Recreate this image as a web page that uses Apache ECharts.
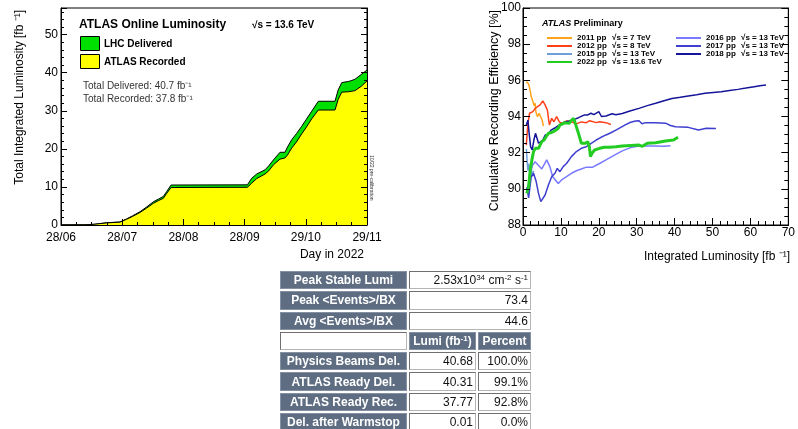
<!DOCTYPE html>
<html>
<head>
<meta charset="utf-8">
<script src="https://cdn.jsdelivr.net/npm/echarts@6/dist/echarts.min.js"></script>
<style>
  html, body { margin: 0; padding: 0; background: #fff; }
  #chart { position: absolute; left: 0; top: 0; width: 798px; height: 429px; }
  #tbl { position: absolute; left: 278px; top: 269px; overflow: hidden; height: 160px; }
  #tbl table { border-collapse: separate; border-spacing: 2px; table-layout: fixed; width: 255px;
    font-family: 'Liberation Sans', Arial, sans-serif; font-size: 12px; }
  #tbl td { height: 16.3px; padding: 0 2px; white-space: nowrap; overflow: hidden; line-height: 14px; }
  #tbl td.h { background: #5e6d82; color: #fff; font-weight: bold; text-align: center;
    border: 1px solid #8491a2; }
  #tbl td.v { background: #fff; color: #111; text-align: right;
    border-top: 1px solid #6f6f6f; border-left: 1px solid #6f6f6f;
    border-right: 1px solid #b5b5b5; border-bottom: 1px solid #b5b5b5; }
  #tbl sup { font-size: 8px; line-height: 0; vertical-align: 4px; }
</style>
</head>
<body>
<div id="chart"></div>
<div id="tbl"></div>
<script>
// ---- left plot: cumulative luminosity vs day (day 0 = 28/06/2022)
const dayTicks = ['28/06', '28/07', '28/08', '28/09', '29/10', '29/11']
const dayStep = 30.8
const lumiDays = [0, 12, 17, 23, 29.7, 33, 36, 39.8, 43, 46.5, 49, 51.5, 53.2, 55.4, 56, 93.8, 96, 98.5, 102.7, 104.5, 106.9, 110.2, 112.7, 114, 116.1, 118.5, 121.1, 123.5, 126.2, 129.5, 137.9, 139.5, 141.3, 144.6, 146, 148, 151, 154]
const lumiDelivered = [0, 0.05, 0.2, 0.6, 0.8, 1.6, 2.4, 3.5, 4.7, 6.1, 6.8, 7.5, 8.8, 10.5, 10.55, 10.55, 12.3, 13.4, 14.5, 15.5, 17.1, 19.1, 19.1, 20.5, 22.4, 24.0, 25.9, 27.8, 29.9, 32.5, 32.5, 35.5, 37.4, 37.7, 37.9, 38.3, 39.5, 40.7]
const lumiRecorded = [0, 0.05, 0.2, 0.55, 0.75, 1.5, 2.25, 3.3, 4.4, 5.7, 6.4, 7.0, 8.3, 9.85, 9.9, 9.9, 11.0, 12.2, 13.4, 14.2, 15.8, 17.3, 17.6, 18.4, 20.2, 21.8, 23.9, 25.7, 27.9, 30.2, 30.2, 33.0, 34.9, 35.0, 35.1, 35.3, 36.4, 37.8]

// ---- right plot: cumulative recording efficiency [%] vs integrated lumi [fb-1]
const runYears = ['2011', '2012', '2015', '2022', '2016', '2017', '2018']
const runEnergy = ['7', '8', '13', '13.6', '13', '13', '13']
const eff2011 = [[0.87, 95.93], [1.2, 95.85], [1.48, 95.8], [1.91, 95.4], [2.17, 95.1], [2.6, 95.19], [2.96, 94.6], [3.2, 94.73], [3.39, 94.27], [3.83, 93.99], [4.1, 94.1], [4.26, 94.18], [4.7, 94.08], [5.04, 93.81], [5.39, 93.47]]
const eff2012 = [[0.87, 92.42], [1.3, 93.62], [1.74, 94.18], [2.17, 94.08], [2.6, 94.27], [3.22, 94.45], [3.83, 94.54], [4.52, 94.64], [5.22, 94.86], [5.83, 94.64], [6.43, 94.36], [6.96, 93.53], [7.57, 93.9], [8.17, 93.71], [8.87, 93.99], [9.57, 93.71], [10.17, 93.62], [11.48, 93.75], [12.78, 93.71], [14.09, 93.59], [15.39, 93.7], [16.7, 93.66], [17.6, 93.77], [19.3, 93.66], [20.2, 93.71], [21.9, 93.66], [23.2, 93.56]]
const eff2015 = [[0.9, 92.2], [1.1, 91.5], [1.3, 91.0], [1.5, 91.4], [1.8, 90.9], [2.1, 91.2], [2.4, 90.7], [2.8, 91.0]]
const eff2016 = [[1.2, 90.2], [1.6, 89.9], [1.9, 90.8], [2.5, 91.3], [3.2, 91.5], [3.65, 91.6], [4.96, 91.1], [6.26, 91.6], [7.13, 91.2], [7.83, 90.67], [9.3, 90.3], [10.17, 90.49], [11.48, 90.67], [12.78, 90.86], [14.09, 91.0], [15.39, 91.1], [16.7, 91.2], [18.4, 91.2], [20.2, 91.4], [21.9, 91.6], [24.0, 91.85], [26.2, 92.1], [28.4, 92.28], [30.6, 92.37], [33.0, 92.37], [35.0, 92.37], [37.0, 92.35], [38.9, 92.38]]
const eff2017 = [[1.0, 90.1], [1.48, 89.5], [2.17, 90.67], [2.78, 90.86], [3.48, 90.4], [4.09, 89.75], [4.7, 89.29], [5.22, 89.2], [5.83, 89.66], [6.7, 90.21], [7.57, 90.67], [8.43, 90.86], [9.04, 91.13], [9.74, 90.95], [10.6, 91.23], [11.48, 91.4], [12.78, 91.78], [14.09, 92.06], [15.39, 92.24], [16.7, 92.33], [18.0, 92.52], [19.3, 92.7], [20.6, 92.85], [21.9, 92.98], [23.2, 93.1], [24.5, 93.25], [25.8, 93.4], [27.1, 93.55], [28.4, 93.68], [29.7, 93.75], [30.6, 93.77], [31.4, 93.6], [32.3, 93.66], [35.0, 93.66], [37.6, 93.63], [38.9, 93.5], [40.2, 93.43], [43.6, 93.4], [46.3, 93.25], [48.4, 93.35], [50.9, 93.33]]
const eff2018 = [[0.87, 93.53], [1.3, 93.8], [1.57, 93.16], [2.0, 92.33], [2.43, 92.15], [2.87, 92.7], [3.3, 93.07], [3.65, 93.07], [4.09, 92.52], [4.52, 92.42], [5.22, 92.7], [5.91, 92.98], [6.52, 92.98], [7.39, 93.25], [8.26, 93.35], [9.13, 93.47], [10.0, 93.59], [11.3, 93.71], [12.6, 93.77], [13.5, 93.84], [14.3, 93.9], [15.2, 93.99], [16.1, 94.08], [17.0, 94.08], [17.9, 94.18], [18.7, 94.1], [20.0, 94.27], [20.7, 94.0], [21.9, 94.03], [23.5, 94.15], [24.5, 94.1], [26.2, 94.17], [28.2, 94.3], [30.6, 94.45], [32.8, 94.6], [35.0, 94.73], [37.2, 94.87], [39.3, 95.0], [41.5, 95.06], [43.6, 95.13], [45.8, 95.2], [48.0, 95.28], [50.2, 95.33], [52.3, 95.37], [54.5, 95.44], [56.7, 95.5], [58.8, 95.57], [61.0, 95.65], [62.5, 95.7], [64.1, 95.74]]
const eff2022 = [[1.0, 89.75], [1.48, 90.12], [1.91, 91.04], [2.35, 91.6], [2.78, 92.06], [3.22, 92.24], [3.65, 92.33], [4.09, 92.24], [4.52, 92.33], [4.96, 92.61], [5.57, 92.7], [6.09, 92.88], [6.7, 93.07], [7.3, 93.1], [8.0, 93.16], [8.7, 93.25], [9.3, 93.35], [9.74, 93.53], [10.4, 93.59], [11.0, 93.66], [11.5, 93.66], [12.2, 93.62], [12.8, 93.8], [13.4, 93.9], [13.8, 93.62], [14.5, 93.16], [14.9, 92.88], [15.4, 92.52], [15.8, 92.5], [16.5, 92.52], [17.1, 92.61], [17.5, 92.33], [17.8, 91.78], [18.2, 91.97], [18.9, 92.15], [20.2, 92.24], [21.5, 92.3], [22.8, 92.3], [24.5, 92.33], [26.2, 92.37], [28.4, 92.4], [30.6, 92.42], [31.5, 92.35], [32.8, 92.52], [35.0, 92.55], [37.6, 92.64], [39.7, 92.7], [40.9, 92.85]]

// ---- table
const statRows = [
  ['Peak Stable Lumi', '2.53x10<sup>34</sup> cm<sup>-2</sup> s<sup>-1</sup>'],
  ['Peak &lt;Events&gt;/BX', '73.4'],
  ['Avg &lt;Events&gt;/BX', '44.6']
]
const lumiHeader = ['Lumi (fb<sup>-1</sup>)', 'Percent']
const lumiRows = [
  ['Physics Beams Del.', '40.68', '100.0%'],
  ['ATLAS Ready Del.', '40.31', '99.1%'],
  ['ATLAS Ready Rec.', '37.77', '92.8%'],
  ['Del. after Warmstop', '0.01', '0.0%']
]

let html = '<table><colgroup><col style="width:127px"><col style="width:67px"><col style="width:53px"></colgroup>'
statRows.forEach(r => { html += `<tr><td class="h">${r[0]}</td><td class="v" colspan="2">${r[1]}</td></tr>` })
html += `<tr><td class="v"></td><td class="h">${lumiHeader[0]}</td><td class="h">${lumiHeader[1]}</td></tr>`
lumiRows.forEach(r => { html += `<tr><td class="h">${r[0]}</td><td class="v">${r[1]}</td><td class="v">${r[2]}</td></tr>` })
html += '</table>'
document.getElementById('tbl').innerHTML = html

const FONT = 'Liberation Sans, Arial, Helvetica, sans-serif'
const zip = (xs, ys) => xs.map((x, i) => [x, ys[i]])
const energyOf = {}
runYears.forEach((y, i) => { energyOf[y] = runEnergy[i] })

// ROOT-like axes: ticks inside the frame, drawn over the filled areas
const tickAxis = (extra) => Object.assign({
  z: 10,
  axisLine: { show: true, lineStyle: { color: '#000', width: 1 } },
  axisTick: { show: true, inside: true, length: 6, lineStyle: { color: '#000' } },
  minorTick: { show: true, length: 3, lineStyle: { color: '#000' } },
  splitLine: { show: false },
  axisLabel: { color: '#000', fontSize: 12, fontFamily: FONT }
}, extra)

const effLine = (name, data, color, width) => ({
  name, type: 'line', xAxisIndex: 1, yAxisIndex: 2, data,
  symbol: 'none', lineStyle: { color, width }, itemStyle: { color }
})

// legend text: "2011 pp   √s = 7 TeV"
const runLegend = (names, left) => ({
  data: names, orient: 'vertical', left, top: 29, icon: 'rect',
  itemWidth: 25, itemHeight: 2, itemGap: 0, selectedMode: false,
  formatter: n => `{a|${n} pp}{b|√s = ${energyOf[n]} TeV}`,
  textStyle: { fontSize: 8, fontWeight: 'bold', fontFamily: FONT, color: '#000', lineHeight: 8,
    rich: { a: { width: 35, fontSize: 8, fontWeight: 'bold', fontFamily: FONT, lineHeight: 8 },
            b: { fontSize: 8, fontWeight: 'bold', fontFamily: FONT, lineHeight: 8 } } }
})

const chart = echarts.init(document.getElementById('chart'), null, { renderer: 'canvas' })
chart.setOption({
  animation: false,
  backgroundColor: 'transparent',
  grid: [
    { left: 61, top: 8, width: 306, height: 217, show: true, borderColor: '#000', borderWidth: 1 },
    { left: 523, top: 8, width: 268, height: 217, show: true, borderColor: '#000', borderWidth: 1 }
  ],
  xAxis: [
    tickAxis({
      type: 'value', gridIndex: 0, min: 0, max: 154, interval: dayStep,
      axisTick: { show: true, inside: true, length: 6, lineStyle: { color: '#000' } },
      minorTick: { show: true, splitNumber: 4, length: 3, lineStyle: { color: '#000' } },
      axisLabel: { color: '#000', fontSize: 12, fontFamily: FONT, margin: 7,
        formatter: v => dayTicks[Math.round(v / dayStep)] }
    }),
    tickAxis({
      type: 'value', gridIndex: 1, min: 0, max: 70, interval: 10,
      axisTick: { show: true, inside: true, length: 7, lineStyle: { color: '#000' } },
      minorTick: { show: true, splitNumber: 5, length: 4, lineStyle: { color: '#000' } },
      axisLabel: { color: '#000', fontSize: 12, fontFamily: FONT, margin: 2 }
    })
  ],
  yAxis: [
    tickAxis({
      type: 'value', gridIndex: 0, min: 0, max: 57, interval: 10,
      minorTick: { show: true, splitNumber: 5, length: 3, lineStyle: { color: '#000' } },
      axisLabel: { color: '#000', fontSize: 12, fontFamily: FONT, margin: 3, showMaxLabel: false }
    }),
    tickAxis({
      type: 'value', gridIndex: 0, min: 0, max: 57, interval: 10, position: 'right',
      minorTick: { show: true, splitNumber: 5, length: 3, lineStyle: { color: '#000' } },
      axisLabel: { show: false }
    }),
    tickAxis({
      type: 'value', gridIndex: 1, min: 88, max: 100, interval: 2,
      axisTick: { show: true, inside: true, length: 7, lineStyle: { color: '#000' } },
      minorTick: { show: true, splitNumber: 4, length: 4, lineStyle: { color: '#000' } },
      axisLabel: { color: '#000', fontSize: 12, fontFamily: FONT, margin: 2 }
    }),
    tickAxis({
      type: 'value', gridIndex: 1, min: 88, max: 100, interval: 2, position: 'right',
      axisTick: { show: true, inside: true, length: 7, lineStyle: { color: '#000' } },
      minorTick: { show: true, splitNumber: 4, length: 4, lineStyle: { color: '#000' } },
      axisLabel: { show: false }
    })
  ],
  legend: [
    runLegend(['2011', '2012', '2015', '2022'], 542),
    runLegend(['2016', '2017', '2018'], 671)
  ],
  graphic: [
    // left plot texts and legend
    { type: 'text', x: 79, y: 25, style: { text: 'ATLAS Online Luminosity', fontSize: 12, fontWeight: 'bold', fontFamily: FONT, fill: '#000', verticalAlign: 'middle' } },
    { type: 'text', x: 252, y: 25, style: { text: '√s = 13.6 TeV', fontSize: 10, fontWeight: 'bold', fontFamily: FONT, fill: '#000', verticalAlign: 'middle' } },
    { type: 'rect', shape: { x: 80.5, y: 36.5, width: 19, height: 14 }, style: { fill: '#00e000', stroke: '#000', lineWidth: 1 } },
    { type: 'text', x: 104, y: 44, style: { text: 'LHC Delivered', fontSize: 10, fontWeight: 'bold', fontFamily: FONT, fill: '#000', verticalAlign: 'middle' } },
    { type: 'rect', shape: { x: 80.5, y: 54.5, width: 19, height: 14 }, style: { fill: '#ffff00', stroke: '#000', lineWidth: 1 } },
    { type: 'text', x: 104, y: 62, style: { text: 'ATLAS Recorded', fontSize: 10, fontWeight: 'bold', fontFamily: FONT, fill: '#000', verticalAlign: 'middle' } },
    { type: 'text', x: 83, y: 86, style: { text: 'Total Delivered: 40.7 fb⁻¹', fontSize: 10, fontFamily: FONT, fill: '#333', verticalAlign: 'middle' } },
    { type: 'text', x: 83, y: 99, style: { text: 'Total Recorded: 37.8 fb⁻¹', fontSize: 10, fontFamily: FONT, fill: '#333', verticalAlign: 'middle' } },
    { type: 'text', x: 371, y: 155, rotation: -Math.PI / 2, style: { text: '10/22 pre-calibration', fontSize: 5, fontFamily: FONT, fill: '#333', align: 'left', verticalAlign: 'middle' } },
    { type: 'text', x: 20, y: 10, rotation: Math.PI / 2, style: { text: 'Total Integrated Luminosity [fb ⁻¹]', fontSize: 12, fontFamily: FONT, fill: '#000', align: 'right', verticalAlign: 'middle' } },
    { type: 'text', x: 364, y: 255, style: { text: 'Day in 2022', fontSize: 12, fontFamily: FONT, fill: '#000', align: 'right', verticalAlign: 'middle' } },
    // right plot texts
    { type: 'text', x: 542, y: 24, style: { text: '{a|ATLAS} {b|Preliminary}', fontSize: 9, fontFamily: FONT, fill: '#000', verticalAlign: 'middle',
      rich: { a: { fontSize: 9, fontWeight: 'bold', fontStyle: 'italic', fontFamily: FONT }, b: { fontSize: 9, fontWeight: 'bold', fontFamily: FONT } } } },
    { type: 'text', x: 495, y: 10, rotation: Math.PI / 2, style: { text: 'Cumulative Recording Efficiency [%]', fontSize: 12.5, fontFamily: FONT, fill: '#000', align: 'right', verticalAlign: 'middle' } },
    { type: 'text', x: 790, y: 257, style: { text: 'Integrated Luminosity [fb ⁻¹]', fontSize: 12, fontFamily: FONT, fill: '#000', align: 'right', verticalAlign: 'middle' } }
  ],
  series: [
    {
      name: 'LHC Delivered', type: 'line', xAxisIndex: 0, yAxisIndex: 0, data: zip(lumiDays, lumiDelivered),
      symbol: 'none', lineStyle: { color: '#000', width: 1 }, areaStyle: { color: '#00e000', opacity: 1 }, z: 2
    },
    {
      name: 'ATLAS Recorded', type: 'line', xAxisIndex: 0, yAxisIndex: 0, data: zip(lumiDays, lumiRecorded),
      symbol: 'none', lineStyle: { color: '#000', width: 1 }, areaStyle: { color: '#ffff00', opacity: 1 }, z: 3
    },
    effLine('2011', eff2011, '#ffa31a', 1.5),
    effLine('2012', eff2012, '#ff4019', 1.5),
    effLine('2015', eff2015, '#6f9fd8', 1.5),
    effLine('2016', eff2016, '#7a7aff', 1.5),
    effLine('2017', eff2017, '#3f3fcf', 1.5),
    effLine('2018', eff2018, '#15159a', 1.5),
    effLine('2022', eff2022, '#22cc22', 3)
  ]
})
</script>
</body>
</html>
